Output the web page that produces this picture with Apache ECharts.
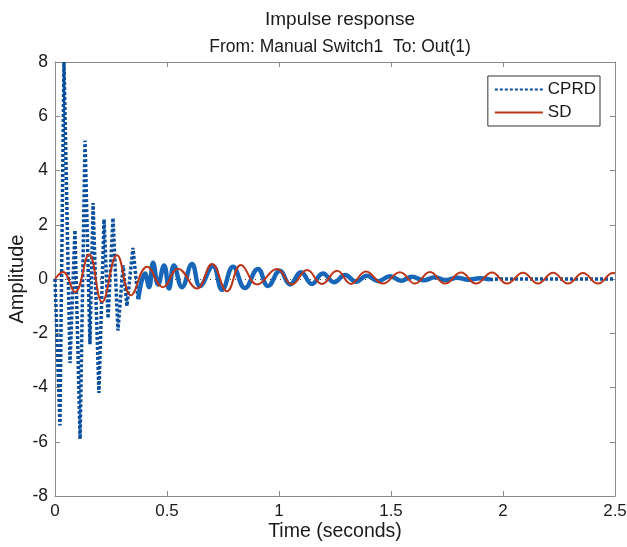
<!DOCTYPE html>
<html>
<head>
<meta charset="utf-8">
<script src="https://cdn.jsdelivr.net/npm/echarts@6/dist/echarts.min.js"></script>
<style>
html,body{margin:0;padding:0;background:#fff;}
#chart{width:627px;height:547px;}
</style>
</head>
<body>
<div id="chart"></div>
<script>
// ---- data (time in seconds, amplitude) ----
var xTicks = [0, 0.5, 1, 1.5, 2, 2.5];
var yTicks = [-8, -6, -4, -2, 0, 2, 4, 6, 8];

// CPRD: early high-frequency spikes (dotted)
var cprdSpikeT = [0.000, 0.022, 0.040, 0.067, 0.089, 0.112, 0.134, 0.156, 0.170, 0.196, 0.219, 0.237, 0.259, 0.281, 0.304, 0.321, 0.348, 0.371];
var cprdSpikeY = [0, -5.4, 8.0, -3.1, 1.8, -5.9, 5.1, -2.4, 2.8, -4.2, 2.2, -1.45, 2.25, -1.9, 0.5, -1.0, 1.15, -0.75];
// CPRD: middle decaying oscillation
var cprdMidT = [0.371, 0.402, 0.420, 0.438, 0.460, 0.487, 0.509, 0.531, 0.567, 0.612, 0.647, 0.705, 0.746, 0.795, 0.848, 0.906, 0.951, 1.004, 1.049, 1.098, 1.147, 1.196, 1.246, 1.295, 1.344, 1.393, 1.442, 1.496, 1.545, 1.594, 1.645, 1.696, 1.746, 1.795, 1.844, 1.897, 1.942];
var cprdMidY = [-0.75, 0.2, -0.3, 0.6, -0.2, 0.5, -0.35, 0.5, -0.3, 0.55, -0.26, 0.48, -0.4, 0.45, -0.33, 0.37, -0.26, 0.3, -0.2, 0.25, -0.18, 0.2, -0.12, 0.15, -0.1, 0.12, -0.08, 0.1, -0.06, 0.08, -0.05, 0.06, -0.04, 0.05, -0.03, 0.03, -0.02];
// CPRD: settled tail (dotted)
var cprdTailT = [1.942, 1.987, 2.5];
var cprdTailY = [-0.02, 0, 0];

// SD
var sdT = [0, 0.036, 0.089, 0.152, 0.210, 0.277, 0.339, 0.411, 0.482, 0.549, 0.634, 0.701, 0.768, 0.830, 0.902, 0.991, 1.058, 1.125, 1.192, 1.259, 1.321, 1.388, 1.464, 1.540, 1.607, 1.674, 1.741, 1.813, 1.879, 1.951, 2.018, 2.089, 2.156, 2.223, 2.290, 2.357, 2.424, 2.491, 2.5];
var sdY = [0, 0.26, -0.48, 0.9, -0.85, 0.88, -0.6, 0.45, -0.3, 0.38, -0.35, 0.55, -0.45, 0.52, -0.2, 0.37, -0.2, 0.33, -0.18, 0.3, -0.18, 0.28, -0.17, 0.25, -0.17, 0.26, -0.17, 0.24, -0.17, 0.24, -0.17, 0.23, -0.17, 0.23, -0.17, 0.22, -0.17, 0.22, 0.21];

function zip(t, y) { return t.map(function (v, i) { return [v, y[i]]; }); }

var FONT = "'Liberation Sans', Arial, sans-serif";
var AXIS_COLOR = '#8a8a8a';
var LABEL_COLOR = '#1a1a1a';
var BLUE_DOT = '#0a4f9e';
var BLUE_SOLID = '#1766b8';
var RED = '#bd3519';

var chart = echarts.init(document.getElementById('chart'), null, {renderer: 'canvas'});

function baseX(extra) {
  return Object.assign({
    type: 'value', min: xTicks[0], max: xTicks[xTicks.length - 1], interval: 0.5,
    axisLine: {show: true, onZero: false, lineStyle: {color: AXIS_COLOR, width: 1}},
    axisTick: {show: true, inside: true, length: 5, lineStyle: {color: AXIS_COLOR}},
    splitLine: {show: false}
  }, extra);
}
function baseY(extra) {
  return Object.assign({
    type: 'value', min: yTicks[0], max: yTicks[yTicks.length - 1], interval: 2,
    axisLine: {show: true, onZero: false, lineStyle: {color: AXIS_COLOR, width: 1}},
    axisTick: {show: true, inside: true, length: 5, lineStyle: {color: AXIS_COLOR}},
    splitLine: {show: false}
  }, extra);
}

var option = {
  backgroundColor: '#fff',
  animation: false,
  textStyle: {fontFamily: FONT},
  title: {
    text: 'Impulse response',
    subtext: 'From: Manual Switch1  To: Out(1)',
    left: 335, top: 5, textAlign: 'center', itemGap: 9,
    textStyle: {fontFamily: FONT, fontSize: 19, fontWeight: 'normal', color: LABEL_COLOR},
    subtextStyle: {fontFamily: FONT, fontSize: 17.5, color: LABEL_COLOR}
  },
  grid: {left: 55, right: 12, top: 62, bottom: 51, containLabel: false, outerBoundsMode: 'none'},
  legend: {
    orient: 'vertical', right: 27, top: 76,
    itemWidth: 48, itemHeight: 10, itemGap: 6,
    padding: [5, 4, 5, 6],
    borderColor: '#333', borderWidth: 1, backgroundColor: '#fff',
    itemStyle: {opacity: 0},
    textStyle: {fontFamily: FONT, fontSize: 17, color: LABEL_COLOR},
    data: ['CPRD', 'SD']
  },
  xAxis: [
    baseX({
      position: 'bottom',
      axisLabel: {show: true, fontSize: 17, color: LABEL_COLOR, margin: 7, fontFamily: FONT},
      name: 'Time (seconds)', nameLocation: 'middle', nameGap: 26, nameMoveOverlap: false,
      nameTextStyle: {fontSize: 19.5, color: LABEL_COLOR, fontFamily: FONT}
    }),
    baseX({position: 'top', axisLabel: {show: false}})
  ],
  yAxis: [
    baseY({
      position: 'left',
      axisLabel: {show: true, fontSize: 17.5, color: LABEL_COLOR, margin: 7, fontFamily: FONT},
      name: 'Amplitude', nameLocation: 'middle', nameGap: 28, nameMoveOverlap: false,
      nameTextStyle: {fontSize: 20, color: LABEL_COLOR, fontFamily: FONT}
    }),
    baseY({position: 'right', axisLabel: {show: false}})
  ],
  series: [
    {
      name: 'CPRD', type: 'line', xAxisIndex: 0, yAxisIndex: 0,
      data: zip(cprdSpikeT, cprdSpikeY),
      symbol: 'none', smooth: false,
      lineStyle: {color: BLUE_DOT, width: 3.5, type: [3, 2]},
      itemStyle: {color: BLUE_DOT},
      z: 3
    },
    {
      name: 'CPRD', type: 'line', xAxisIndex: 0, yAxisIndex: 0,
      data: zip(cprdMidT, cprdMidY),
      symbol: 'none', smooth: 0.45,
      lineStyle: {color: BLUE_SOLID, width: 4.5},
      itemStyle: {color: BLUE_DOT},
      z: 3
    },
    {
      name: 'CPRD', type: 'line', xAxisIndex: 0, yAxisIndex: 0,
      data: zip(cprdTailT, cprdTailY),
      symbol: 'none', smooth: false,
      lineStyle: {color: BLUE_DOT, width: 3.5, type: [3, 2]},
      itemStyle: {color: BLUE_DOT},
      z: 3
    },
    {
      name: 'SD', type: 'line', xAxisIndex: 0, yAxisIndex: 0,
      data: zip(sdT, sdY),
      symbol: 'none', smooth: 0.45,
      lineStyle: {color: RED, width: 2},
      itemStyle: {color: RED},
      z: 4,
      markLine: {
        silent: true, symbol: 'none', label: {show: false},
        lineStyle: {color: '#444', width: 1, type: [1, 4]},
        data: [{yAxis: 0}],
        z: 1
      }
    }
  ]
};
chart.setOption(option);
</script>
</body>
</html>
